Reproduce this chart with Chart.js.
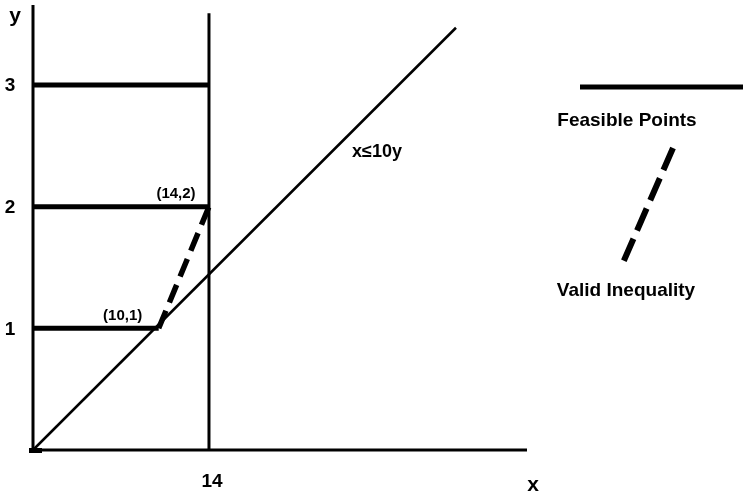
<!DOCTYPE html>
<html>
<head>
<meta charset="utf-8">
<script src="https://cdn.jsdelivr.net/npm/chart.js@4.4.1/dist/chart.umd.min.js"></script>
<style>
  html, body { margin: 0; padding: 0; background: #fff; }
  #c { display: block; }
</style>
</head>
<body>
<canvas id="c" width="743" height="493"></canvas>
<script>
// ---- data ----
const feasibleY = [1, 2, 3];          // levels of the feasible horizontal segments
const feasibleXEnd = [10, 14, 14];    // right end of each segment
const boundX = 14;                    // vertical bound x = 14
const boundTop = 3.59;
const ineqX = [0, 33.65];             // line x = 10y (as drawn)
const ineqY = [0, 3.47];
const validX = [10, 14];              // valid inequality (dashed)
const validY = [1, 2];
const pointLabels = ["(10,1)", "(14,2)"];
const yTicks = [1, 2, 3];
const xTicks = [14];
const xMax = 39.3, yMax = 3.657;

const FONT = '"Liberation Sans", Arial, Helvetica, sans-serif';

const datasets = [];
feasibleY.forEach((y, i) => {
  datasets.push({
    label: 'Feasible ' + y,
    data: [{x: 0, y: y}, {x: feasibleXEnd[i], y: y}],
    showLine: true, borderColor: '#000', borderWidth: 5,
    pointRadius: 0, clip: false, borderCapStyle: 'butt'
  });
});
datasets.push({
  label: 'x=14',
  data: [{x: boundX, y: 0}, {x: boundX, y: boundTop}],
  showLine: true, borderColor: '#000', borderWidth: 3, pointRadius: 0, clip: false
});
datasets.push({
  label: 'x<=10y',
  data: ineqX.map((x, i) => ({x: x, y: ineqY[i]})),
  showLine: true, borderColor: '#000', borderWidth: 2.5, pointRadius: 0, clip: false
});
datasets.push({
  label: 'Valid Inequality',
  data: validX.map((x, i) => ({x: x, y: validY[i]})),
  showLine: true, borderColor: '#000', borderWidth: 5.5, borderDash: [19, 9],
  pointRadius: 0, clip: false, borderCapStyle: 'butt'
});

const overlay = {
  id: 'overlay',
  afterDraw(chart) {
    const ctx = chart.ctx;
    const a = chart.chartArea;
    const xs = chart.scales.x, ys = chart.scales.y;
    ctx.save();
    ctx.strokeStyle = '#000';
    ctx.fillStyle = '#000';
    // axes
    ctx.lineWidth = 3;
    ctx.beginPath();
    ctx.moveTo(a.left, a.top);
    ctx.lineTo(a.left, a.bottom);
    ctx.lineTo(a.right, a.bottom);
    ctx.stroke();
    // origin blob
    ctx.fillRect(a.left - 4, a.bottom - 2, 13, 5);

    // tick labels
    ctx.font = 'bold 19px ' + FONT;
    ctx.textAlign = 'center';
    ctx.textBaseline = 'middle';
    yTicks.forEach(v => ctx.fillText(String(v), 10, ys.getPixelForValue(v) + 1));
    xTicks.forEach(v => ctx.fillText(String(v), xs.getPixelForValue(v) + 3, 482));
    // axis titles
    ctx.font = 'bold 21px ' + FONT;
    ctx.fillText('y', 15, 16);
    ctx.fillText('x', 533, 485);

    // point labels
    ctx.font = 'bold 15px ' + FONT;
    ctx.fillText(pointLabels[0], xs.getPixelForValue(validX[0]) - 36, ys.getPixelForValue(validY[0]) - 12);
    ctx.fillText(pointLabels[1], xs.getPixelForValue(validX[1]) - 33, ys.getPixelForValue(validY[1]) - 13);

    // inequality label
    ctx.font = 'bold 18px ' + FONT;
    ctx.fillText('x\u226410y', 377, 152);

    // legend
    ctx.lineWidth = 5;
    ctx.beginPath();
    ctx.moveTo(580, 87);
    ctx.lineTo(743, 87);
    ctx.stroke();
    ctx.font = 'bold 19px ' + FONT;
    ctx.fillText('Feasible Points', 627, 121);
    ctx.lineWidth = 6;
    ctx.setLineDash([24, 9]);
    ctx.beginPath();
    ctx.moveTo(673, 148);
    ctx.lineTo(622, 265);
    ctx.stroke();
    ctx.setLineDash([]);
    ctx.fillText('Valid Inequality', 626, 291);
    ctx.restore();
  }
};

new Chart(document.getElementById('c'), {
  type: 'scatter',
  data: { datasets: datasets },
  options: {
    responsive: false,
    animation: false,
    devicePixelRatio: 1,
    layout: { padding: { left: 33, right: 216, top: 5, bottom: 43 } },
    plugins: { legend: { display: false }, tooltip: { enabled: false } },
    scales: {
      x: { type: 'linear', min: 0, max: xMax, display: false },
      y: { type: 'linear', min: 0, max: yMax, display: false }
    }
  },
  plugins: [overlay]
});
</script>
</body>
</html>
